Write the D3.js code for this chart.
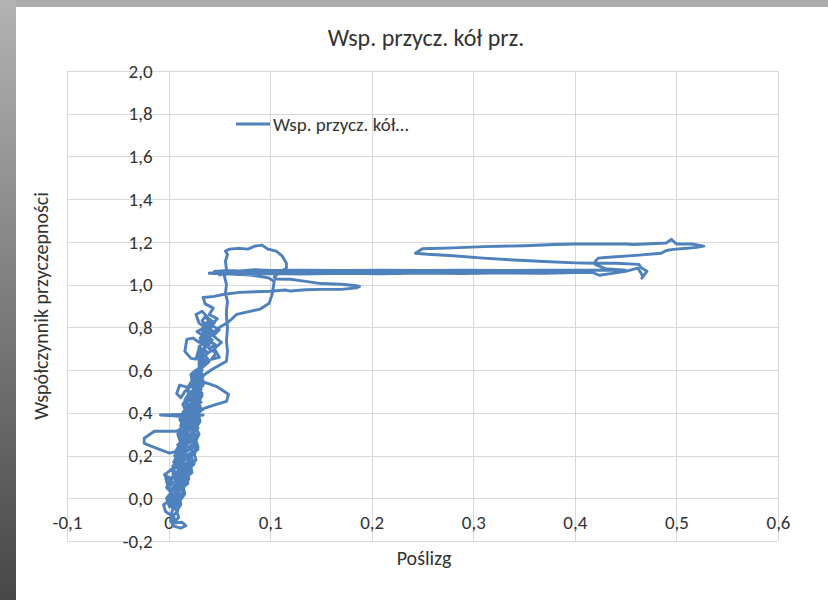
<!DOCTYPE html>
<html>
<head>
<meta charset="utf-8">
<script src="https://cdn.jsdelivr.net/npm/d3@7/dist/d3.min.js"></script>
<style>
  html, body { margin: 0; padding: 0; background: #ababab; }
  svg { display: block; }
  text { font-family: Carlito, Lato, "Open Sans", sans-serif; fill: #333333; }
</style>
</head>
<body>
<svg id="chart" width="828" height="600"></svg>
<script>
// Chart texts and tick values
const chartTitle = "Wsp. przycz. kół prz.";
const xTitle = "Poślizg";
const yTitle = "Współczynnik przyczepności";
const legendLabel = "Wsp. przycz. kół…";
const xTicks = [-0.1, 0, 0.1, 0.2, 0.3, 0.4, 0.5, 0.6];
const yTicks = [-0.2, 0, 0.2, 0.4, 0.6, 0.8, 1.0, 1.2, 1.4, 1.6, 1.8, 2.0];

// Measured trajectory: [slip, adhesion coefficient], in recording order
const bottomLoop = [
  [0.006,-0.02],[0.003,-0.07],[0.002,-0.105],[0.005,-0.13],[0.012,-0.14],[0.017,-0.128],
  [0.013,-0.112],[0.006,-0.116],[0.004,-0.085],[-0.003,-0.062],[-0.005,-0.03],[0.002,-0.008]
];
const columnUp1 = [
  [0.004,0.02],[-0.002,0.05],[0.003,0.09],[-0.004,0.11],[0.004,0.14],[0.010,0.16],[0.006,0.2],
  [0.014,0.23],[0.011,0.27],[0.017,0.3],[0.013,0.34],[0.02,0.37],[0.017,0.41],[0.024,0.44],
  [0.02,0.48],[0.027,0.51],[0.024,0.55],[0.03,0.58]
];
const columnDown1 = [
  [0.026,0.55],[0.029,0.5],[0.022,0.47],[0.026,0.43],[0.019,0.4],[0.023,0.36],[0.016,0.33],
  [0.02,0.29],[0.013,0.26],[0.018,0.22],[0.011,0.19],[0.015,0.15],[0.008,0.12],[0.012,0.08],
  [0.005,0.05],[0.009,0.01],[0.004,-0.03]
];
const columnUp2 = [
  [0.01,0.0],[0.015,0.04],[0.011,0.07],[0.018,0.1],[0.014,0.13],[0.021,0.17],[0.017,0.2],
  [0.026,0.22],[0.027,0.25],[0.02,0.28],[0.025,0.32],[0.021,0.35],[0.028,0.38],[0.024,0.41],
  [0.03,0.45],[0.026,0.49],[0.032,0.53],[0.028,0.57],[0.033,0.6]
];
const columnDown2 = [
  [0.027,0.56],[0.021,0.52],[0.016,0.5],[0.012,0.47],[0.008,0.49],[0.011,0.53],[0.018,0.52],
  [0.02,0.48],[0.014,0.44],[0.018,0.4],[0.011,0.37],[0.015,0.33],[0.009,0.3],[0.012,0.26],
  [0.007,0.22],[0.01,0.18],[0.004,0.15],[0.007,0.11],[0.0,0.08],[-0.003,0.1],[-0.001,0.06],
  [0.003,0.03],[-0.002,0.0],[0.001,-0.04]
];
const columnUp3 = [
  [0.005,0.0],[0.002,0.04],[0.008,0.07],[0.005,0.11],[0.012,0.14],[0.009,0.18],[0.016,0.2],
  [0.014,0.25],[0.02,0.27],[0.018,0.31],[0.024,0.34],[0.021,0.38],[0.027,0.41],[0.023,0.45],
  [0.029,0.47],[0.026,0.52],[0.032,0.55],[0.03,0.58]
];
const columnDown3 = [
  [0.025,0.53],[0.03,0.48],[0.025,0.44],[0.029,0.4],[0.031,0.36],[0.025,0.33],[0.03,0.3],
  [0.024,0.27],[0.029,0.23],[0.022,0.2],[0.025,0.16],[0.018,0.13],[0.02,0.09],[0.014,0.06],
  [0.016,0.02],[0.01,-0.02]
];
const columnUp4 = [
  [0.004,-0.02],[0.008,0.0],[0.005,0.02],[0.009,0.04],[0.006,0.06],[0.011,0.08],[0.007,0.1],
  [0.012,0.12],[0.009,0.14],[0.014,0.16],[0.011,0.18],[0.016,0.2],[0.013,0.22],[0.018,0.24],
  [0.015,0.26],[0.02,0.28],[0.016,0.3],[0.021,0.32],[0.017,0.34],[0.022,0.36],[0.019,0.38],
  [0.024,0.4],[0.02,0.42],[0.025,0.44],[0.021,0.46],[0.026,0.48],[0.023,0.5],[0.028,0.52],
  [0.024,0.54],[0.029,0.56],[0.026,0.58],[0.031,0.6]
];
const columnDown4 = [
  [0.033,0.58],[0.028,0.56],[0.032,0.54],[0.027,0.52],[0.031,0.5],[0.026,0.48],[0.03,0.46],
  [0.025,0.44],[0.029,0.42],[0.024,0.4],[0.028,0.38],[0.023,0.36],[0.027,0.34],[0.022,0.32],
  [0.026,0.3],[0.021,0.28],[0.025,0.26],[0.02,0.24],[0.024,0.22],[0.018,0.2],[0.022,0.18],
  [0.016,0.16],[0.019,0.14],[0.013,0.12],[0.016,0.1],[0.01,0.08],[0.013,0.06],[0.007,0.04],
  [0.01,0.02],[0.005,0.0],[0.008,-0.02]
];
const columnUp5 = [
  [0.002,-0.04],[0.0,-0.01],[0.003,0.02],[-0.001,0.05],[0.002,0.08],[0.005,0.1],[0.004,0.13],
  [0.008,0.15],[0.006,0.18],[0.01,0.2],[0.009,0.23],[0.012,0.26],[0.01,0.29],[0.014,0.31],
  [0.012,0.34],[0.016,0.37],[0.014,0.4],[0.018,0.43],[0.016,0.46],[0.02,0.49],[0.019,0.52],
  [0.023,0.55],[0.022,0.58],[0.027,0.6]
];
const columnDown5 = [
  [0.032,0.57],[0.035,0.54],[0.031,0.51],[0.033,0.48],[0.029,0.45],[0.032,0.42],[0.028,0.39],
  [0.031,0.36],[0.027,0.33],[0.03,0.3],[0.027,0.27],[0.029,0.24],[0.025,0.21],[0.027,0.18],
  [0.022,0.15],[0.023,0.12],[0.018,0.1],[0.019,0.07],[0.014,0.05],[0.015,0.02],[0.011,0.0],
  [0.012,-0.03],[0.008,-0.06],[0.01,-0.09],[0.006,-0.11]
];
const columnUp6 = [
  [0.005,-0.08],[0.009,-0.06],[0.004,-0.04],[0.008,-0.02],[0.003,0.0],[0.009,0.02],[0.005,0.04],
  [0.01,0.06],[0.006,0.08],[0.012,0.1],[0.008,0.12],[0.013,0.14],[0.01,0.16],[0.015,0.18],
  [0.011,0.2],[0.017,0.22],[0.013,0.24],[0.018,0.26],[0.014,0.28],[0.02,0.3],[0.016,0.32],
  [0.021,0.34],[0.018,0.36],[0.023,0.38],[0.019,0.4],[0.025,0.42],[0.021,0.44],[0.026,0.46],
  [0.022,0.48],[0.028,0.5],[0.024,0.52],[0.029,0.54],[0.026,0.56],[0.031,0.58]
];
const columnDown6 = [
  [0.028,0.57],[0.033,0.55],[0.027,0.53],[0.032,0.51],[0.026,0.49],[0.03,0.47],[0.024,0.45],
  [0.029,0.43],[0.023,0.41],[0.027,0.39],[0.021,0.37],[0.026,0.35],[0.02,0.33],[0.024,0.31],
  [0.018,0.29],[0.023,0.27],[0.017,0.25],[0.021,0.23],[0.015,0.21],[0.02,0.19],[0.013,0.17],
  [0.017,0.15],[0.011,0.13],[0.015,0.11],[0.008,0.09],[0.013,0.07],[0.006,0.05],[0.01,0.03],
  [0.004,0.01],[0.008,-0.01],[0.002,-0.03],[0.006,-0.05]
];
const columnUp7 = [
  [0.0,-0.03],[0.004,-0.01],[0.0,0.01],[0.003,0.03],[-0.001,0.05],[0.004,0.07],[0.001,0.09],
  [0.006,0.11],[0.003,0.13],[0.008,0.15],[0.005,0.17],[0.01,0.19],[0.007,0.21],[0.012,0.23],
  [0.009,0.25],[0.014,0.27],[0.011,0.29],[0.015,0.31],[0.012,0.33],[0.017,0.35],[0.014,0.37],
  [0.019,0.39],[0.016,0.41],[0.021,0.43],[0.018,0.45],[0.023,0.47],[0.02,0.49],[0.025,0.51],
  [0.022,0.53],[0.027,0.55],[0.024,0.57],[0.029,0.59]
];
const columnDown7 = [
  [0.034,0.57],[0.03,0.55],[0.034,0.53],[0.029,0.51],[0.033,0.49],[0.028,0.47],[0.032,0.45],
  [0.027,0.43],[0.031,0.41],[0.026,0.39],[0.03,0.37],[0.025,0.35],[0.029,0.33],[0.024,0.31],
  [0.028,0.29],[0.023,0.27],[0.027,0.25],[0.022,0.23],[0.026,0.21],[0.02,0.19],[0.024,0.17],
  [0.018,0.15],[0.021,0.13],[0.015,0.11],[0.018,0.09],[0.012,0.07],[0.015,0.05],[0.009,0.03],
  [0.012,0.01],[0.007,-0.01],[0.009,-0.03],[0.005,-0.05]
];
const sideLoops = [
  [0.006,-0.01],[0.01,0.03],[0.006,0.06],[0.013,0.1],[0.009,0.14],[0.016,0.18],[0.012,0.21],
  [0.008,0.22],[0.001,0.211],[-0.009,0.229],[-0.024,0.257],[-0.024,0.281],[-0.014,0.314],
  [0.008,0.314],[0.014,0.33],[0.02,0.35],[0.016,0.38],[0.008,0.385],[-0.008,0.39],[0.012,0.392],
  [0.034,0.39],[0.026,0.385],[0.022,0.4],[0.029,0.398],[0.035,0.421],[0.047,0.44],[0.057,0.454],
  [0.059,0.487],[0.047,0.524],[0.032,0.548],[0.027,0.56],[0.031,0.6],[0.035,0.62]
];
const clusterCore = [
  [0.04,0.64],[0.036,0.67],[0.042,0.69],[0.037,0.72],[0.043,0.74],[0.038,0.76],[0.044,0.78],
  [0.039,0.8],[0.045,0.82],[0.04,0.84],[0.038,0.82],[0.042,0.8],[0.036,0.78],[0.041,0.76],
  [0.035,0.74],[0.04,0.72],[0.034,0.7],[0.039,0.68],[0.033,0.66],[0.037,0.64],[0.032,0.62]
];
const clusterCore2 = [
  [0.031,0.62],[0.035,0.65],[0.031,0.68],[0.036,0.71],[0.032,0.73],[0.038,0.75],[0.033,0.77],
  [0.039,0.79],[0.034,0.81],[0.04,0.83],[0.036,0.85],[0.033,0.83],[0.037,0.81],[0.032,0.79],
  [0.036,0.77],[0.031,0.75],[0.035,0.73],[0.03,0.71],[0.034,0.69],[0.029,0.67],[0.033,0.65],
  [0.03,0.62]
];
const upperCluster = [
  [0.03,0.66],[0.036,0.69],[0.03,0.702],[0.027,0.651],[0.022,0.655],[0.016,0.688],[0.018,0.744],
  [0.024,0.75],[0.03,0.73],[0.034,0.76],[0.028,0.78],[0.036,0.8],[0.03,0.82],[0.027,0.86],
  [0.033,0.875],[0.038,0.85],[0.042,0.82],[0.036,0.79],[0.043,0.77],[0.038,0.74],[0.046,0.72],
  [0.04,0.7],[0.047,0.68],[0.042,0.65],[0.05,0.66],[0.045,0.7],[0.052,0.73],[0.044,0.76],
  [0.05,0.79],[0.042,0.81],[0.048,0.84],[0.04,0.86],[0.044,0.89],[0.036,0.91],[0.034,0.94]
];
const topLoops = [
  [0.045,0.945],[0.055,0.955],[0.07,0.964],[0.1,0.969],[0.115,0.975],[0.12,0.97],[0.135,0.976],
  [0.15,0.978],[0.17,0.978],[0.185,0.985],[0.188,0.992],[0.185,0.995],[0.17,1.002],[0.15,1.005],
  [0.135,1.015],[0.12,1.025],[0.106,1.026],[0.104,1.035],[0.107,1.049],[0.116,1.077],
  [0.116,1.1],[0.112,1.133],[0.106,1.157],[0.098,1.166],[0.092,1.185],[0.085,1.18],
  [0.078,1.166],[0.07,1.17],[0.06,1.166],[0.056,1.157],[0.058,1.14],[0.056,1.11],[0.057,1.07],
  [0.055,1.04],[0.057,1.0],[0.056,0.96],[0.058,0.92],[0.057,0.88],[0.057,0.852],[0.058,0.8],
  [0.057,0.735],[0.058,0.688],[0.057,0.641],[0.043,0.604],[0.033,0.571],[0.028,0.6],
  [0.036,0.64],[0.03,0.68],[0.04,0.72],[0.034,0.75],[0.045,0.78],[0.05,0.8],[0.058,0.822],
  [0.062,0.838],[0.067,0.861],[0.09,0.885],[0.099,0.913],[0.102,0.955],[0.104,1.016],
  [0.098,1.032],[0.08,1.045],[0.06,1.05],[0.04,1.053]
];
const bandOut = [
  [0.07,1.05],[0.1,1.052],[0.13,1.05],[0.17,1.053],[0.21,1.051],[0.25,1.054],[0.29,1.052],
  [0.33,1.055],[0.37,1.053],[0.4,1.056],[0.417,1.058],[0.424,1.044],[0.437,1.053],[0.45,1.062],
  [0.462,1.077],[0.465,1.055],[0.467,1.039],[0.466,1.03],[0.471,1.063],[0.465,1.08],
  [0.463,1.095],[0.44,1.1],[0.42,1.1]
];
const farLoop = [
  [0.4,1.102],[0.37,1.108],[0.34,1.115],[0.31,1.124],[0.28,1.135],[0.255,1.142],[0.243,1.147],
  [0.25,1.168],[0.28,1.172],[0.31,1.178],[0.35,1.182],[0.38,1.188],[0.4,1.19],[0.45,1.19],
  [0.458,1.188],[0.49,1.195],[0.495,1.212],[0.5,1.19],[0.515,1.19],[0.527,1.18],[0.52,1.175],
  [0.51,1.17],[0.497,1.165],[0.49,1.16],[0.485,1.147],[0.46,1.137],[0.43,1.127],[0.423,1.124],
  [0.42,1.108]
];
const bandBack = [
  [0.42,1.095],[0.43,1.075],[0.45,1.068],[0.41,1.067],[0.37,1.068],[0.33,1.066],[0.29,1.068],
  [0.25,1.066],[0.21,1.068],[0.17,1.066],[0.13,1.068],[0.1,1.066],[0.085,1.07],[0.07,1.064],
  [0.058,1.066],[0.045,1.062],[0.08,1.058],[0.12,1.06],[0.16,1.058],[0.2,1.062],[0.24,1.06],
  [0.28,1.063],[0.32,1.06],[0.36,1.062],[0.39,1.058],[0.35,1.06],[0.3,1.058],[0.25,1.06],
  [0.2,1.057],[0.15,1.06],[0.1,1.058],[0.06,1.06],[0.05,1.045]
];

const track = [].concat(
  bottomLoop, columnUp1, columnDown1, columnUp2, columnDown2, columnUp3, columnDown3,
  columnUp4, columnDown4, columnUp5, columnDown5, columnUp6, columnDown6, columnUp7, columnDown7,
  sideLoops, clusterCore, clusterCore2, upperCluster, topLoops, bandOut, farLoop, bandBack
);

const svg = d3.select("#chart");
const fmt = v => (v === 0 ? "0" : d3.format(".1f")(v).replace(".", ",").replace("−", "-"));
const fmtY = v => d3.format(".1f")(v).replace(".", ",").replace("−", "-");

// Background: gray frame with a darkening left edge and white chart panel
const defs = svg.append("defs");
const grad = defs.append("linearGradient").attr("id", "edge").attr("x1", 0).attr("y1", 0).attr("x2", 0).attr("y2", 1);
grad.append("stop").attr("offset", 0).attr("stop-color", "#b3b3b3");
grad.append("stop").attr("offset", 1).attr("stop-color", "#474747");
svg.append("rect").attr("x", 0).attr("y", 0).attr("width", 828).attr("height", 600).attr("fill", "#ababab");
svg.append("rect").attr("x", 0).attr("y", 0).attr("width", 16).attr("height", 600).attr("fill", "url(#edge)");
svg.append("rect").attr("x", 16).attr("y", 7).attr("width", 812).attr("height", 593).attr("fill", "#ffffff");

const x = d3.scaleLinear().domain([-0.1, 0.6]).range([67, 778]);
const y = d3.scaleLinear().domain([-0.2, 2.0]).range([541, 71]);

// Gridlines
const grid = svg.append("g").attr("stroke", "#d9d9d9").attr("stroke-width", 1).attr("shape-rendering", "crispEdges");
grid.selectAll("line.h").data(yTicks).join("line")
  .attr("x1", x(-0.1)).attr("x2", x(0.6))
  .attr("y1", d => Math.round(y(d)) + 0.5).attr("y2", d => Math.round(y(d)) + 0.5);
grid.selectAll("line.v").data(xTicks).join("line")
  .attr("y1", y(2.0)).attr("y2", y(-0.2))
  .attr("x1", d => Math.round(x(d)) + 0.5).attr("x2", d => Math.round(x(d)) + 0.5);

// Tick labels via d3 axes, positioned next to the zero lines
const xAxis = d3.axisBottom(x).tickValues(xTicks).tickFormat(fmt).tickSize(0).tickPadding(17);
const gx = svg.append("g").attr("transform", `translate(0,${y(0)})`).call(xAxis);
gx.select(".domain").remove();
gx.selectAll("text").attr("font-size", 19).attr("fill", "#333333").style("font-family", "Carlito, Lato, sans-serif");

const yAxis = d3.axisLeft(y).tickValues(yTicks).tickFormat(fmtY).tickSize(0).tickPadding(16);
const gy = svg.append("g").attr("transform", `translate(${x(0)},0)`).call(yAxis);
gy.select(".domain").remove();
gy.selectAll("text").attr("font-size", 19).attr("fill", "#333333").style("font-family", "Carlito, Lato, sans-serif");

// Trajectory line
const line = d3.line().x(d => x(d[0])).y(d => y(d[1]));
svg.append("path").datum(track)
  .attr("d", line)
  .attr("fill", "none")
  .attr("stroke", "#4f81bd")
  .attr("stroke-width", 2.9)
  .attr("stroke-linejoin", "round")
  .attr("stroke-linecap", "round");

// Legend
svg.append("line").attr("x1", 236).attr("x2", 270).attr("y1", 124).attr("y2", 124)
  .attr("stroke", "#4f81bd").attr("stroke-width", 2.9);
svg.append("text").attr("x", 273).attr("y", 131).attr("font-size", 19).text(legendLabel);

// Titles
svg.append("text").attr("x", 426).attr("y", 46).attr("text-anchor", "middle").attr("font-size", 24)
  .attr("fill", "#222222").text(chartTitle);
svg.append("text").attr("x", 424).attr("y", 565).attr("text-anchor", "middle").attr("font-size", 20).text(xTitle);
svg.append("text").attr("transform", "translate(48,306) rotate(-90)").attr("text-anchor", "middle")
  .attr("font-size", 20).text(yTitle);
</script>
</body>
</html>
